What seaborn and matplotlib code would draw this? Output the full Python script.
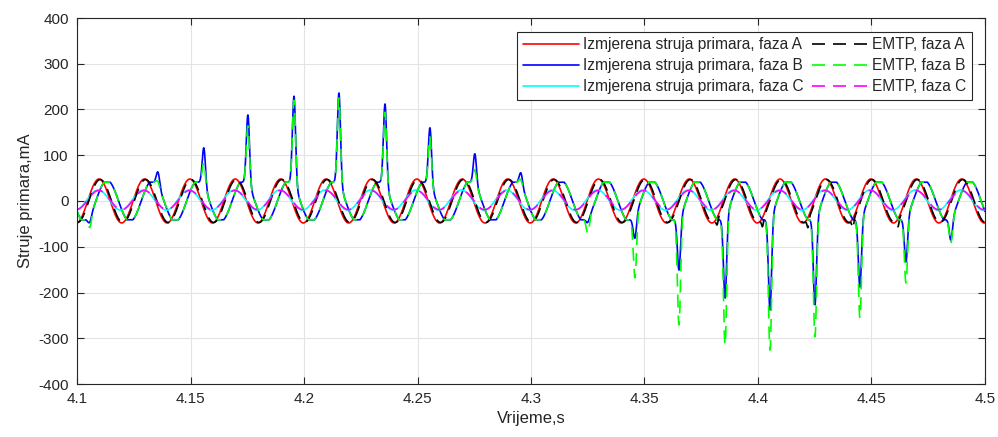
import numpy as np
import pandas as pd
import matplotlib
matplotlib.use("Agg")
import matplotlib.pyplot as plt
import seaborn as sns
from matplotlib.ticker import FuncFormatter

# ---------------- data ----------------
t_start, t_end, dt = 4.1, 4.5, 0.0001
freq = 50.0

# base sinusoid parameters (amplitude mA, time of a positive peak s, offset mA)
amp_meas_A, peak_meas_A = 48.0, 4.1097
amp_emtp_A, peak_emtp_A = 47.0, 4.1102
amp_B, peak_B, clip_B = 45.0, 4.1133, 41.0
amp_C, peak_C, off_C = 22.0, 4.1093, 2.0
amp_emtp_C, peak_emtp_C = 21.0, 4.1096

# positive inrush spikes on phase B
pos_spike_times = [4.1357, 4.1559, 4.1753, 4.1956, 4.2154, 4.2357, 4.2555, 4.2753, 4.2956]
meas_B_pos_peaks = [63, 116, 188, 229, 236, 212, 160, 103, 61]
emtp_B_pos_peaks = [42, 83, 164, 220, 225, 194, 140, 68, 46]

# negative inrush spikes on phase B
neg_spike_times = [4.1057, 4.3251, 4.3458, 4.3652, 4.3855, 4.4053, 4.4251, 4.4449, 4.4652, 4.4850]
meas_B_neg_peaks = [-46, -46, -81, -151, -212, -238, -227, -188, -133, -85]
emtp_B_neg_peaks = [-57, -70, -168, -271, -315, -326, -297, -256, -179, -92]

# small hooks on EMTP phase A troughs
hook_times_A = [4.3820, 4.4020, 4.4220, 4.4418, 4.4617]
hook_peaks_A = [-52, -56, -58, -60, -56]

spike_sigma = 0.0007
hook_sigma = 0.0004

labels = ["Izmjerena struja primara, faza A", "Izmjerena struja primara, faza B",
          "Izmjerena struja primara, faza C", "EMTP, faza A", "EMTP, faza B", "EMTP, faza C"]
colors = ["#ff0000", "#0000ff", "#00ffff", "#000000", "#00ff00", "#ff00ff"]
styles = ["-", "-", "-", "--", "--", "--"]

# ---------------- build the curves ----------------
t = np.arange(t_start, t_end + dt / 2, dt)
w = 2 * np.pi * freq


def cosw(a, tp, off=0.0):
    return a * np.cos(w * (t - tp)) + off


def add_spikes(base, times, peaks, sig):
    y = base.copy()
    for ts, pk in zip(times, peaks):
        b = np.interp(ts, t, base)
        y += (pk - b) * np.exp(-0.5 * ((t - ts) / sig) ** 2)
    return y


meas_A = cosw(amp_meas_A, peak_meas_A)
emtp_A = add_spikes(cosw(amp_emtp_A, peak_emtp_A), hook_times_A, hook_peaks_A, hook_sigma)
base_B = np.clip(cosw(amp_B, peak_B), -clip_B, clip_B)
meas_B = add_spikes(add_spikes(base_B, pos_spike_times, meas_B_pos_peaks, spike_sigma),
                    neg_spike_times, meas_B_neg_peaks, spike_sigma)
emtp_B = add_spikes(add_spikes(base_B, pos_spike_times, emtp_B_pos_peaks, spike_sigma),
                    neg_spike_times, emtp_B_neg_peaks, spike_sigma)
meas_C = cosw(amp_C, peak_C, off_C)
emtp_C = cosw(amp_emtp_C, peak_emtp_C, off_C)
series = [meas_A, meas_B, meas_C, emtp_A, emtp_B, emtp_C]

# ---------------- plot ----------------
sns.set_theme(style="white")
plt.rcParams["font.family"] = ["Liberation Sans", "DejaVu Sans"]

fig = plt.figure(figsize=(9.98, 4.37), dpi=100)
ax = fig.add_axes([77 / 998, 1 - 384 / 437, 908 / 998, 366 / 437])

for y, lab, c, ls in zip(series, labels, colors, styles):
    kw = dict(dashes=(7.8, 4.8)) if ls == "--" else {}
    sns.lineplot(x=t, y=y, ax=ax, color=c, linewidth=1.2, label=lab,
                 estimator=None, sort=False, **kw)

ax.set_xlim(4.1, 4.5)
ax.set_ylim(-400, 400)
ax.set_xticks(np.arange(4.1, 4.5001, 0.05))
ax.set_yticks(np.arange(-400, 401, 100))
ax.xaxis.set_major_formatter(FuncFormatter(lambda v, p: f"{v:g}"))
ax.yaxis.set_major_formatter(FuncFormatter(lambda v, p: f"{v:g}"))
ax.grid(True, color="#e3e3e3", linewidth=0.8)
ax.set_axisbelow(True)
ax.tick_params(direction="in", length=5, width=0.8, color="#262626",
               labelsize=11, labelcolor="#262626", top=True, right=True,
               bottom=True, left=True, pad=6)
for s in ax.spines.values():
    s.set_color("#262626")
    s.set_linewidth(0.8)
ax.set_xlabel("Vrijeme,s", fontsize=12, color="#262626", labelpad=3)
ax.set_ylabel("Struje primara,mA", fontsize=12, color="#262626", labelpad=4)

leg = ax.legend(ncol=2, loc="upper right", bbox_to_anchor=(1 - 13 / 908, 1 - 14 / 366),
                borderaxespad=0, fontsize=11.2, frameon=True, fancybox=False,
                framealpha=1, edgecolor="#262626", handlelength=3.6,
                columnspacing=0.5, labelspacing=0.38, handletextpad=0.3,
                borderpad=0.35)
leg.get_frame().set_linewidth(0.8)

fig.savefig("out.png", dpi=100)
